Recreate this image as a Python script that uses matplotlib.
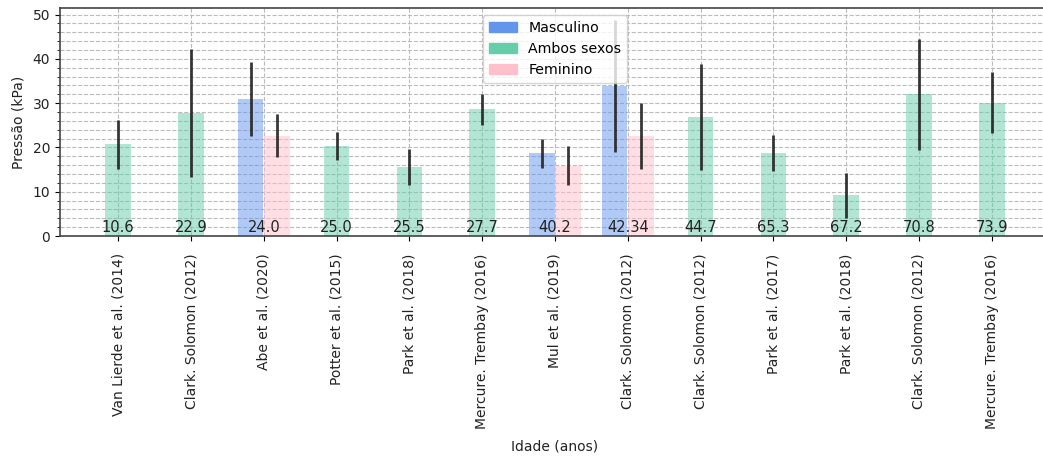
import numpy as np
import matplotlib
matplotlib.use("Agg")
import matplotlib.pyplot as plt
from matplotlib.patches import Patch
from matplotlib.ticker import MultipleLocator

studies = ["Van Lierde et al. (2014)", "Clark. Solomon (2012)", "Abe et al. (2020)",
           "Potter et al. (2015)", "Park et al. (2018)", "Mercure. Trembay (2016)",
           "Mul et al. (2019)", "Clark. Solomon (2012)", "Clark. Solomon (2012)",
           "Park et al. (2017)", "Park et al. (2018)", "Clark. Solomon (2012)",
           "Mercure. Trembay (2016)"]
ages = ["10.6", "22.9", "24.0", "25.0", "25.5", "27.7", "40.2", "42.34", "44.7",
        "65.3", "67.2", "70.8", "73.9"]
nan = np.nan
ambos = [20.7, 27.8, nan, 20.4, 15.6, 28.6, nan, nan, 26.9, 18.7, 9.2, 32.0, 30.1]
ambos_err = [5.5, 14.4, nan, 3.15, 4.1, 3.45, nan, nan, 12.0, 4.05, 5.05, 12.6, 6.85]
masc = [nan, nan, 30.9, nan, nan, nan, 18.7, 33.9, nan, nan, nan, nan, nan]
masc_err = [nan, nan, 8.4, nan, nan, nan, 3.25, 15.0, nan, nan, nan, nan, nan]
fem = [nan, nan, 22.6, nan, nan, nan, 15.9, 22.6, nan, nan, nan, nan, nan]
fem_err = [nan, nan, 4.85, nan, nan, nan, 4.4, 7.4, nan, nan, nan, nan, nan]

c_masc = "#6495ED"
c_ambos = "#66CDAA"
c_fem = "#FFC0CB"

fig = plt.figure(figsize=(10.43, 4.62), dpi=100)
W, H = 1043, 462
ax = fig.add_axes([60 / W, (H - 236) / H, 990 / W, 228 / H])

x = np.arange(len(studies))
w = 0.35
off = 0.18
ekw = dict(ecolor="#222222", elinewidth=2.0, capsize=0, alpha=0.9)
ax.bar(x, ambos, w, yerr=ambos_err, color=c_ambos, alpha=0.5, error_kw=ekw, zorder=2)
ax.bar(x - off, masc, w, yerr=masc_err, color=c_masc, alpha=0.5, error_kw=ekw, zorder=2)
ax.bar(x + off, fem, w, yerr=fem_err, color=c_fem, alpha=0.5, error_kw=ekw, zorder=2)

for xi, a in zip(x, ages):
    ax.text(xi, 0.3, a, ha="center", va="bottom", fontsize=10.5, color="#222222", zorder=3)

ax.set_xlim(-0.8, len(studies) - 0.2)
ax.set_ylim(0, 51.5)
ax.set_xticks(x)
ax.set_xticklabels(studies, rotation=90, fontsize=10, color="#222222")
ax.tick_params(axis="x", pad=9)
ax.yaxis.set_major_locator(MultipleLocator(10))
ax.yaxis.set_minor_locator(MultipleLocator(2))
ax.tick_params(axis="y", labelsize=10, labelcolor="#222222")
ax.grid(True, which="major", axis="both", linestyle="--", color="#bbbbbb", linewidth=0.8, zorder=0)
ax.grid(True, which="minor", axis="y", linestyle="--", color="#bbbbbb", linewidth=0.8, zorder=0)
ax.set_axisbelow(True)
for s in ax.spines.values():
    s.set_color("#444444")
    s.set_linewidth(1.2)

ax.set_ylabel("Pressão (kPa)", fontsize=10, color="#222222", labelpad=5)
ax.set_xlabel("Idade (anos)", fontsize=10, color="#222222", labelpad=8)

handles = [Patch(color=c_masc, label="Masculino"),
           Patch(color=c_ambos, label="Ambos sexos"),
           Patch(color=c_fem, label="Feminino")]
ax.legend(handles=handles, loc="upper center", fontsize=10.2, framealpha=0.8)

fig.savefig("out.png", dpi=100)
